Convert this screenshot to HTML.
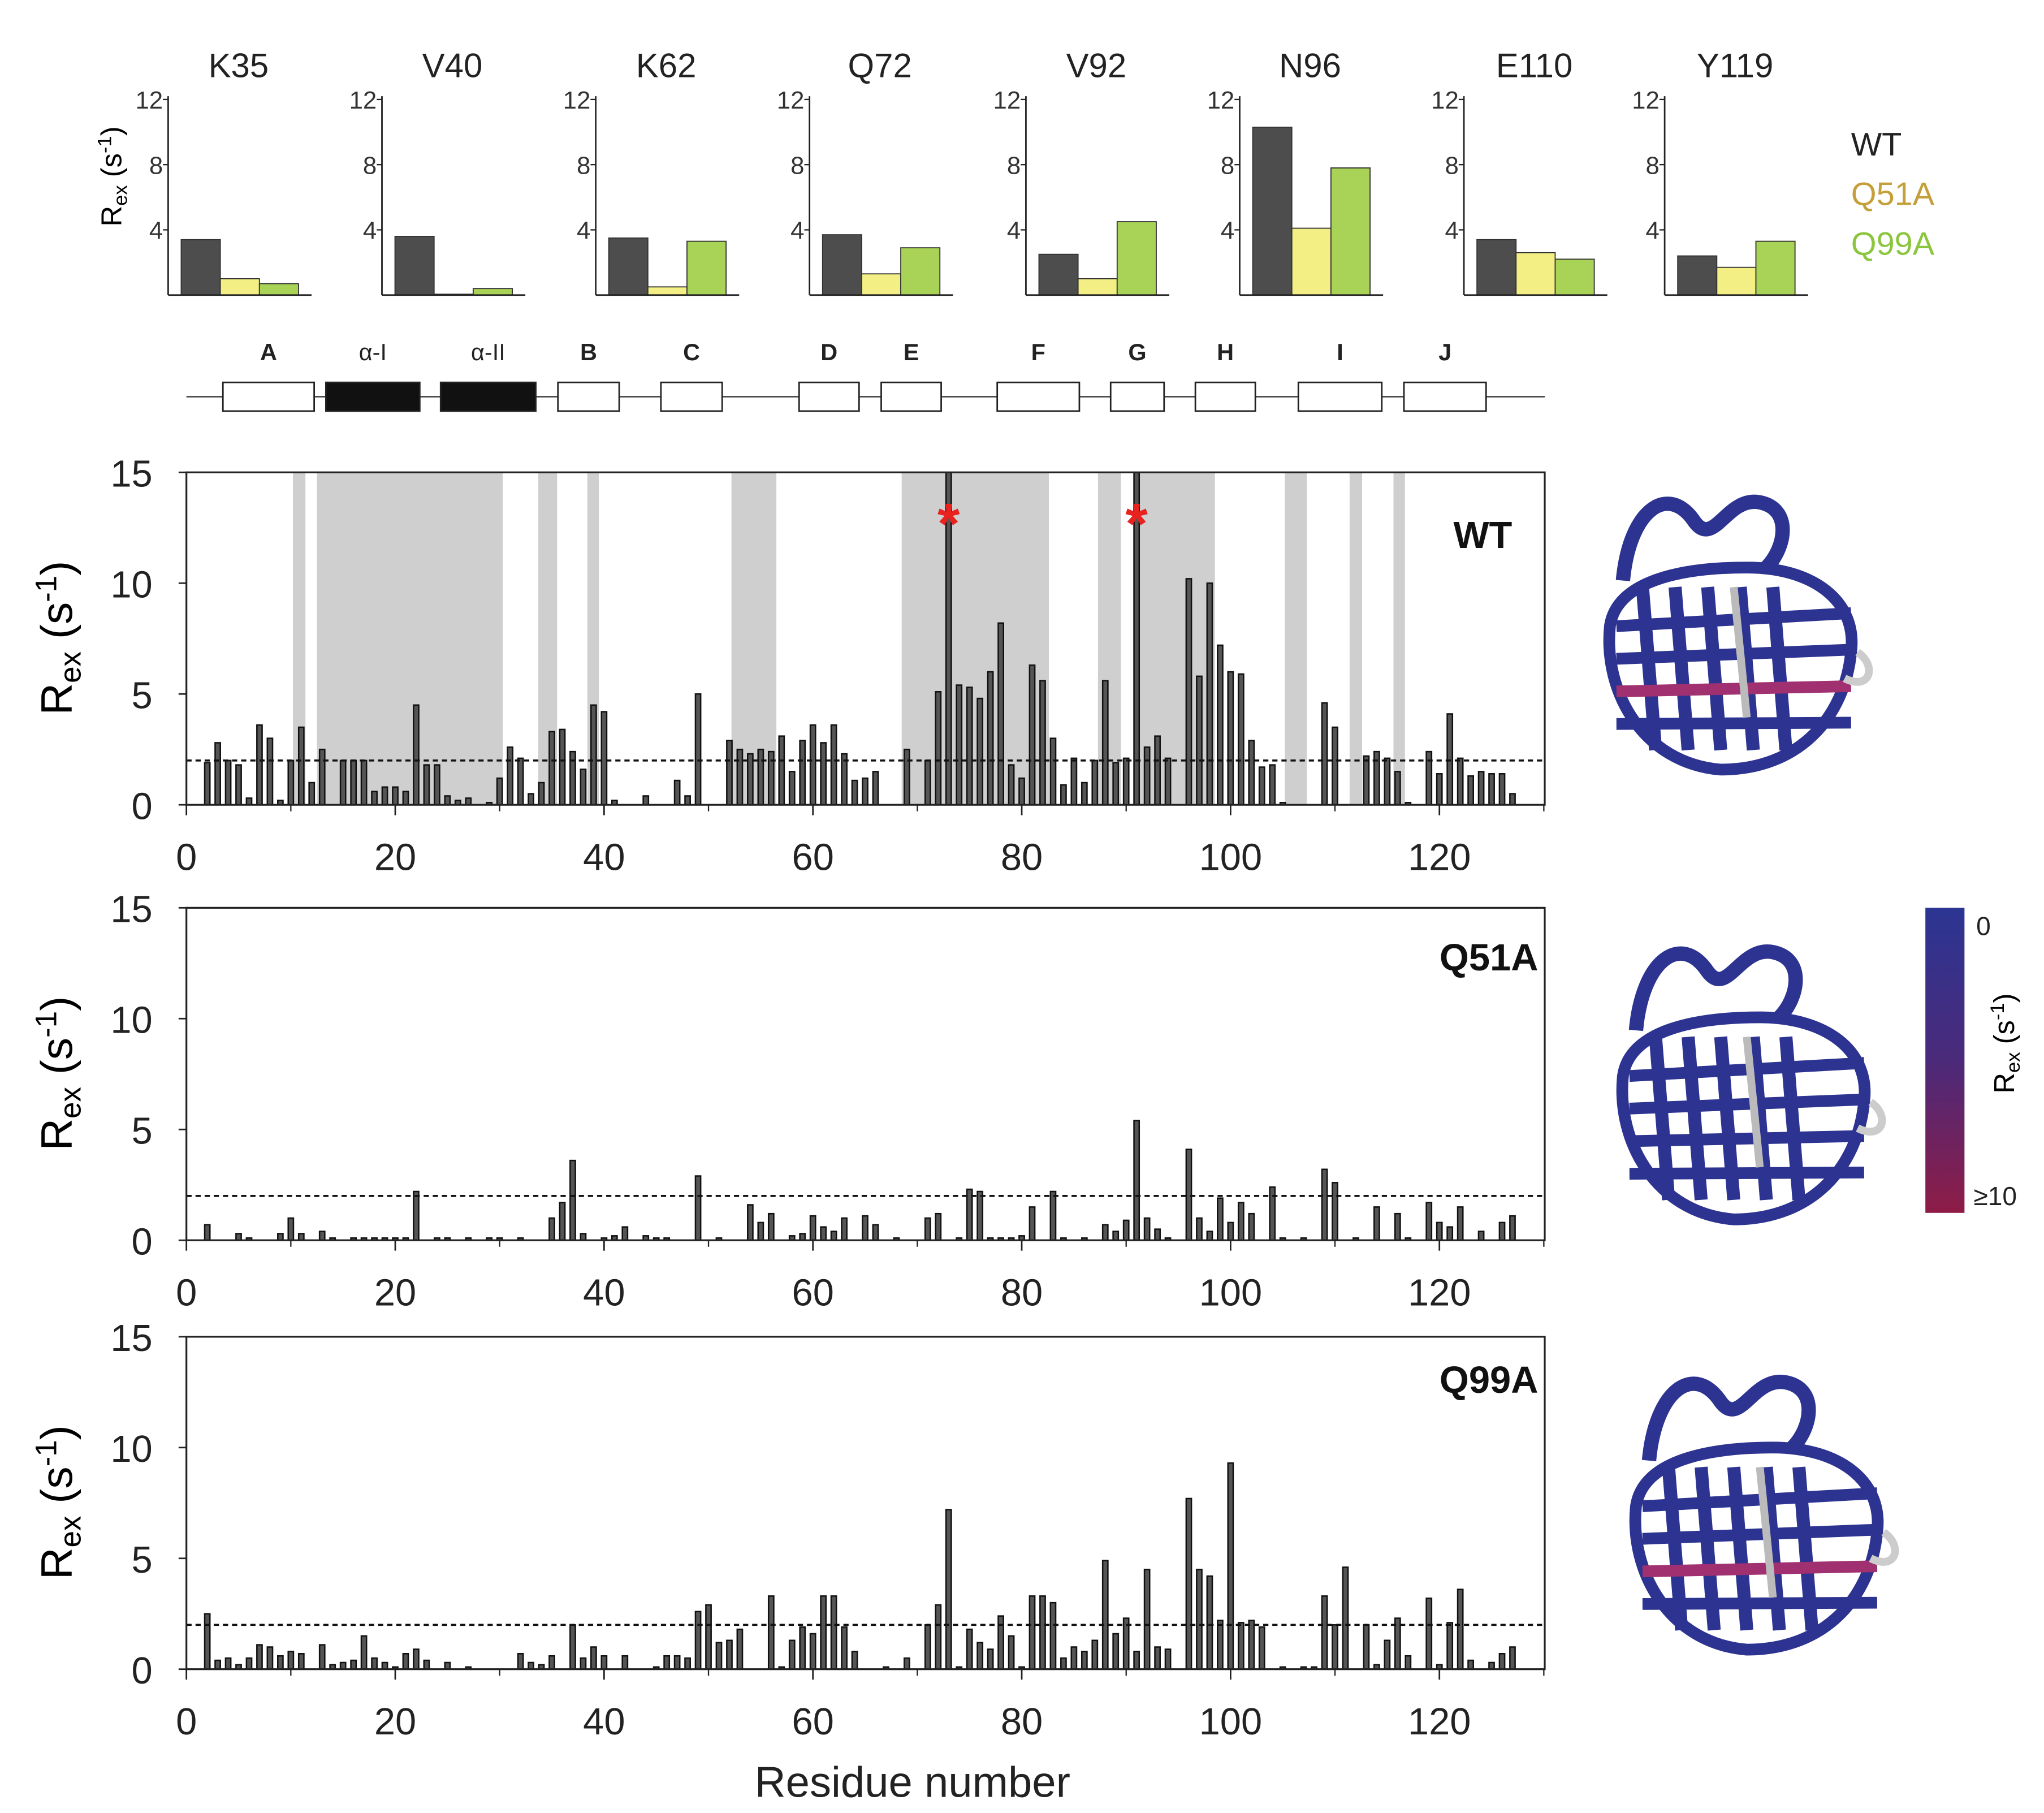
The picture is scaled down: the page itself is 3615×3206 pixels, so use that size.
<!DOCTYPE html>
<html><head><meta charset="utf-8"><style>
html,body{margin:0;padding:0;background:#fff}
svg{display:block}
text{font-family:"Liberation Sans",sans-serif}
</style></head><body>
<svg id="fig" width="3615" height="3206" viewBox="0 0 1568 1390" xmlns="http://www.w3.org/2000/svg">
<rect width="1568" height="1390" fill="#fff"/>
<g id="topg"></g>
<g id="ssg"></g>
<g id="maing"></g>
<g id="structg"></g>
</svg>
<script>
// ---------- data ----------
const topResidues = ["K35","V40","K62","Q72","V92","N96","E110","Y119"];
const topWT   = [3.4,3.6,3.5,3.7,2.5,10.3,3.4,2.4];
const topQ51A = [1.0,0.05,0.5,1.3,1.0,4.1,2.6,1.7];
const topQ99A = [0.7,0.4,3.3,2.9,4.5,7.8,2.2,3.3];
const topTicks = [4,8,12];

const wtRes = [2,3,4,5,6,7,8,9,10,11,12,13,15,16,17,18,19,20,21,22,23,24,25,26,27,29,30,31,32,33,34,35,36,37,38,39,40,41,44,47,48,49,52,53,54,55,56,57,58,59,60,61,62,63,64,65,66,69,71,72,73,74,75,76,77,78,79,80,81,82,83,84,85,86,87,88,89,90,91,92,93,94,96,97,98,99,100,101,102,103,104,105,109,110,113,114,115,116,117,119,120,121,122,123,124,125,126,127];
const wtVal = [1.9,2.8,2.0,1.8,0.3,3.6,3.0,0.2,2.0,3.5,1.0,2.5,2.0,2.0,2.0,0.6,0.8,0.8,0.6,4.5,1.8,1.8,0.4,0.2,0.3,0.1,1.2,2.6,2.1,0.5,1.0,3.3,3.4,2.4,1.6,4.5,4.2,0.2,0.4,1.1,0.4,5.0,2.9,2.5,2.3,2.5,2.4,3.1,1.5,2.9,3.6,2.8,3.6,2.3,1.1,1.2,1.5,2.5,2.0,5.1,15,5.4,5.3,4.8,6.0,8.2,1.8,1.2,6.3,5.6,3.0,0.9,2.1,1.0,2.0,5.6,1.9,2.1,15,2.6,3.1,2.1,10.2,5.8,10.0,7.2,6.0,5.9,2.9,1.7,1.8,0.1,4.6,3.5,2.2,2.4,2.1,1.5,0.1,2.4,1.4,4.1,2.1,1.3,1.5,1.4,1.4,0.5];
const wtStars = [73,91];
const shadeStart = [10.2,12.5,33.7,38.4,52.2,68.5,87.3,91.3,105.2,111.4,115.6];
const shadeEnd   = [11.4,30.3,35.5,39.5,56.5,82.6,89.5,98.5,107.3,112.6,116.7];

const q51Res = [2,5,6,9,10,11,13,14,16,17,18,19,20,21,22,24,25,27,29,30,32,35,36,37,38,40,41,42,44,45,46,49,51,54,55,56,58,59,60,61,62,63,65,66,68,71,72,74,75,76,77,78,79,80,81,83,84,86,88,89,90,91,92,93,94,96,97,98,99,100,101,102,104,105,107,109,110,112,114,116,117,119,120,121,122,124,126,127];
const q51Val = [0.7,0.3,0.1,0.3,1.0,0.3,0.4,0.1,0.1,0.1,0.1,0.1,0.1,0.1,2.2,0.1,0.1,0.1,0.1,0.1,0.1,1.0,1.7,3.6,0.3,0.1,0.2,0.6,0.2,0.1,0.1,2.9,0.1,1.6,0.8,1.2,0.2,0.3,1.1,0.6,0.4,1.0,1.1,0.7,0.1,1.0,1.2,0.1,2.3,2.2,0.1,0.1,0.1,0.2,1.5,2.2,0.1,0.1,0.7,0.4,0.9,5.4,1.0,0.5,0.1,4.1,1.0,0.4,1.9,0.8,1.7,1.2,2.4,0.1,0.1,3.2,2.6,0.1,1.5,1.2,0.1,1.7,0.8,0.6,1.5,0.4,0.8,1.1];

const q99Res = [2,3,4,5,6,7,8,9,10,11,13,14,15,16,17,18,19,20,21,22,23,25,27,32,33,34,35,37,38,39,40,42,45,46,47,48,49,50,51,52,53,56,57,58,59,60,61,62,63,64,67,69,71,72,73,74,75,76,77,78,79,80,81,82,83,84,85,86,87,88,89,90,91,92,93,94,96,97,98,99,100,101,102,103,105,107,108,109,110,111,113,114,115,116,117,119,120,121,122,123,125,126,127];
const q99Val = [2.5,0.4,0.5,0.2,0.5,1.1,1.0,0.6,0.8,0.7,1.1,0.2,0.3,0.4,1.5,0.5,0.3,0.1,0.7,0.9,0.4,0.3,0.1,0.7,0.3,0.2,0.6,2.0,0.5,1.0,0.6,0.6,0.1,0.6,0.6,0.5,2.6,2.9,1.2,1.3,1.8,3.3,0.1,1.3,1.9,1.6,3.3,3.3,1.9,0.8,0.1,0.5,2.0,2.9,7.2,0.1,1.8,1.2,0.9,2.4,1.5,0.1,3.3,3.3,3.0,0.5,1.0,0.8,1.3,4.9,1.6,2.3,0.8,4.5,1.0,0.9,7.7,4.5,4.2,2.2,9.3,2.1,2.2,1.9,0.1,0.1,0.1,3.3,2.0,4.6,2.0,0.2,1.3,2.3,0.6,3.2,0.2,2.1,3.6,0.4,0.3,0.7,1.0];

const xTicks = [0,20,40,60,80,100,120];
const yTicks = [0,5,10,15];
const threshold = 2;

// ---------- helpers ----------
const NS="http://www.w3.org/2000/svg";
function mk(tag, attrs, parent, txt){
  const e=document.createElementNS(NS,tag);
  for(const k in attrs) e.setAttribute(k,attrs[k]);
  if(txt!==undefined) e.textContent=txt;
  parent.appendChild(e); return e;
}
function yLabel(parent,x,y,size,subsize){
  const t=mk('text',{x:x,y:y,'font-size':size,'text-anchor':'middle',transform:`rotate(-90 ${x} ${y})`},parent);
  
  
  mk('tspan',{},t,'R');
  mk('tspan',{'font-size':subsize,dy:size*0.2},t,'ex');
  mk('tspan',{dy:-size*0.2},t,' (s');
  mk('tspan',{'font-size':subsize,dy:-size*0.35},t,'-1');
  mk('tspan',{dy:size*0.35},t,')');
}

// ---------- top mini panels ----------
const topG=document.getElementById('topg');
const panelLeft=[129,293,457,621,787,951,1123,1277];
const ty=v=>226-v*12.5;
topResidues.forEach((name,i)=>{
  const g=mk('g',{},topG);
  
  
  const L=panelLeft[i];
  const t=mk('text',{x:L+54,y:59,'font-size':26,'text-anchor':'middle',fill:'#222'},g,name);
  
  
  const vals=[topWT[i],topQ51A[i],topQ99A[i]];
  const cols=['#4d4d4d','#f3ef85','#a9d356'];
  vals.forEach((v,j)=>{
    const r=mk('rect',{x:L+10+j*30,y:ty(v),width:30,height:v*12.5,fill:cols[j],stroke:'#333','stroke-width':0.8},g);
    
    
  });
  mk('line',{x1:L,y1:ty(12.2),x2:L,y2:226,stroke:'#222','stroke-width':1.2},g);
  mk('line',{x1:L,y1:226,x2:L+110,y2:226,stroke:'#222','stroke-width':1.2},g);
  topTicks.forEach(tk=>{
    mk('line',{x1:L-4,y1:ty(tk),x2:L,y2:ty(tk),stroke:'#222','stroke-width':1},g);
    mk('text',{x:L-4,y:ty(tk)+7,'font-size':19,'text-anchor':'end',fill:'#333'},g,tk);
  });
});
yLabel(topG,93,135,22,15);
[['WT','#222',119],['Q51A','#c49f3a',157],['Q99A','#8cc63f',195]].forEach(([n,c,y])=>{
  const t=mk('text',{x:1420,y:y,'font-size':25,fill:c},topG,n);
  
  
});

// ---------- secondary structure ----------
const ssG=document.getElementById('ssg');
mk('line',{x1:143,y1:304,x2:1185,y2:304,stroke:'#333','stroke-width':1},ssG);
const ssEl=[['A',171,241,0],['α-I',250,322,1],['α-II',338,411,1],['B',428,475,0],['C',507,554,0],['D',613,659,0],['E',676,722,0],['F',765,828,0],['G',852,893,0],['H',917,963,0],['I',996,1060,0],['J',1077,1140,0]];
ssEl.forEach(([n,a,b,h])=>{
  mk('rect',{x:a,y:293,width:b-a,height:22,fill:h?'#111':'#fff',stroke:'#222','stroke-width':1.2},ssG);
  mk('text',{x:(a+b)/2,y:276,'font-size':18,'font-weight':h?'normal':'bold','text-anchor':'middle',fill:'#222'},ssG,n);
});

// ---------- main panels ----------
const mainG=document.getElementById('maing');
const X=r=>143+r*8.01;
const panels=[
  {name:'WT',y0:617,res:wtRes,val:wtVal,shade:true,stars:wtStars,lab:[1160,420]},
  {name:'Q51A',y0:951,res:q51Res,val:q51Val,shade:false,stars:[],lab:[1180,744]},
  {name:'Q99A',y0:1280,res:q99Res,val:q99Val,shade:false,stars:[],lab:[1180,1068]}
];
panels.forEach(p=>{
  const g=mk('g',{},mainG);
  
  
  const Y=v=>p.y0-v*17;
  if(p.shade){
    shadeStart.forEach((s,i)=>{
      const r=mk('rect',{x:X(s),y:Y(15),width:X(shadeEnd[i])-X(s),height:255,fill:'#cfcfcf'},g);
      
      
    });
  }
  p.res.forEach((r,i)=>{
    const v=Math.min(p.val[i],15);
    const b=mk('rect',{x:X(r)-2,y:Y(v),width:4,height:v*17,fill:'#555',stroke:'#111','stroke-width':1.1},g);
    
    
  });
  mk('line',{x1:143,y1:Y(threshold),x2:1185,y2:Y(threshold),stroke:'#111','stroke-width':1.6,'stroke-dasharray':'4,3'},g);
  mk('rect',{x:143,y:Y(15),width:1042,height:255,fill:'none',stroke:'#222','stroke-width':1.4},g);
  xTicks.forEach(t=>{
    mk('line',{x1:X(t),y1:p.y0,x2:X(t),y2:p.y0+8,stroke:'#222','stroke-width':1.2},g);
    mk('text',{x:X(t),y:p.y0+50,'font-size':29,'text-anchor':'middle',fill:'#222'},g,t);
    if(t<125) mk('line',{x1:X(t+10),y1:p.y0,x2:X(t+10),y2:p.y0+5,stroke:'#222','stroke-width':1},g);
  });
  yTicks.forEach(t=>{
    mk('line',{x1:137,y1:Y(t),x2:143,y2:Y(t),stroke:'#222','stroke-width':1.2},g);
    mk('text',{x:117,y:Y(t)+11,'font-size':29,'text-anchor':'end',fill:'#222'},g,t);
  });
  p.stars.forEach(s=>{
    const sm=mk('text',{x:X(s),y:Y(11.8),'font-size':44,'font-weight':'bold','text-anchor':'middle',fill:'#e8221f'},g,'*');
    
    
  });
  const lt=mk('text',{x:p.lab[0],y:p.lab[1],'font-size':29,'font-weight':'bold','text-anchor':'end',fill:'#111'},g,p.name);
  
  
  yLabel(g,55,p.y0-128,34,23);
});
const xl=mk('text',{x:700,y:1378,'font-size':33,'text-anchor':'middle',fill:'#222'},mainG,'Residue number');



// ---------- structures (schematic) ----------
const structG=document.getElementById('structg');
function protein(cx,cy,red){
  const g=mk('g',{transform:`translate(${cx},${cy})`},structG);
  
  
  const c='#2d3390';
  mk('path',{d:'M-75,-45 C-70,-100 -40,-120 -20,-90 C-5,-70 5,-110 30,-105 C55,-100 50,-70 35,-55',fill:'none',stroke:c,'stroke-width':11},g);
  mk('path',{d:'M-85,-10 C-90,40 -60,95 0,100 C60,100 95,60 100,10 C105,-30 70,-55 20,-55 C-30,-55 -80,-45 -85,-10Z',fill:'none',stroke:c,'stroke-width':9},g);
  for(let i=0;i<5;i++){
    mk('line',{x1:-60+i*25,y1:-40,x2:-50+i*25,y2:85,stroke:c,'stroke-width':10},g);
  }
  for(let i=0;i<4;i++){
    mk('line',{x1:-80,y1:-10+i*25,x2:100,y2:-20+i*28,stroke:i==2&&red?'#a03070':c,'stroke-width':9},g);
  }
  mk('path',{d:'M10,-40 L20,60',stroke:'#bbb','stroke-width':6},g);
  mk('path',{d:'M95,30 C115,40 120,20 105,10',fill:'none',stroke:'#ccc','stroke-width':6},g);
}
protein(1320,490,true);
protein(1330,835,false);
protein(1340,1165,true);
// colorbar
const defs=mk('defs',{},structG);
const gr=mk('linearGradient',{id:'cb',x1:0,y1:0,x2:0,y2:1},defs);
mk('stop',{offset:'0','stop-color':'#2b3592'},gr);
mk('stop',{offset:'0.5','stop-color':'#4b2a7a'},gr);
mk('stop',{offset:'1','stop-color':'#8e1c46'},gr);
const cb=mk('rect',{x:1477,y:696,width:30,height:234,fill:'url(#cb)'},structG);


mk('text',{x:1516,y:717,'font-size':20,fill:'#222'},structG,'0');
mk('text',{x:1514,y:924,'font-size':20,fill:'#222'},structG,'≥10');
yLabel(structG,1545,800,22,15);
</script>
</body></html>
